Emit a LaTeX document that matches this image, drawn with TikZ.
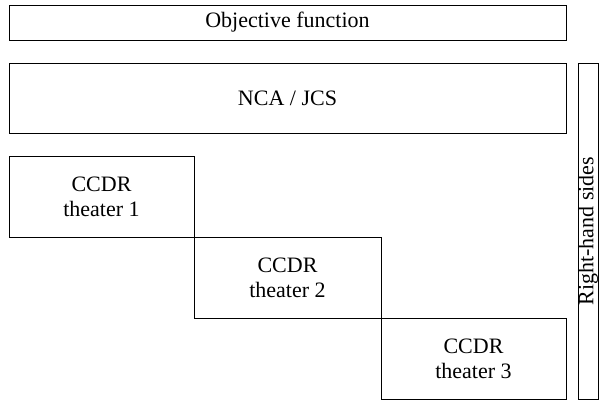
\documentclass[tikz,border=0pt]{standalone}
\usepackage{fontspec}
\setmainfont{Liberation Serif}
\begin{document}
\begin{tikzpicture}[x=1pt,y=1pt,
  box/.style={draw, line width=1pt, inner sep=0pt, outer sep=0pt,
    align=center, anchor=north west, font=\fontsize{22}{25}\selectfont}]
  \useasboundingbox (0,0) rectangle (603,-400);
  % objective row and master block
  \node[box, minimum width=557, minimum height=35] (obj) at (9,-5) {Objective function};
  \node[box, minimum width=557, minimum height=70] (nca) at (9,-63) {NCA / JCS};
  % staircase of theater subproblems
  \node[box, minimum width=185, minimum height=81] (t1) at (9,-156) {CCDR\\theater 1};
  \node[box, minimum width=187, minimum height=81] (t2) at (194,-237) {CCDR\\theater 2};
  \node[box, minimum width=185, minimum height=81] (t3) at (381,-318) {CCDR\\theater 3};
  % right-hand-side column
  \node[box, minimum width=20, minimum height=336] (rhs) at (578,-63) {};
  \node[font=\fontsize{22}{25}\selectfont, rotate=90, inner sep=0pt] (rhslabel) at (rhs.center) {Right-hand sides};
\end{tikzpicture}
\end{document}
